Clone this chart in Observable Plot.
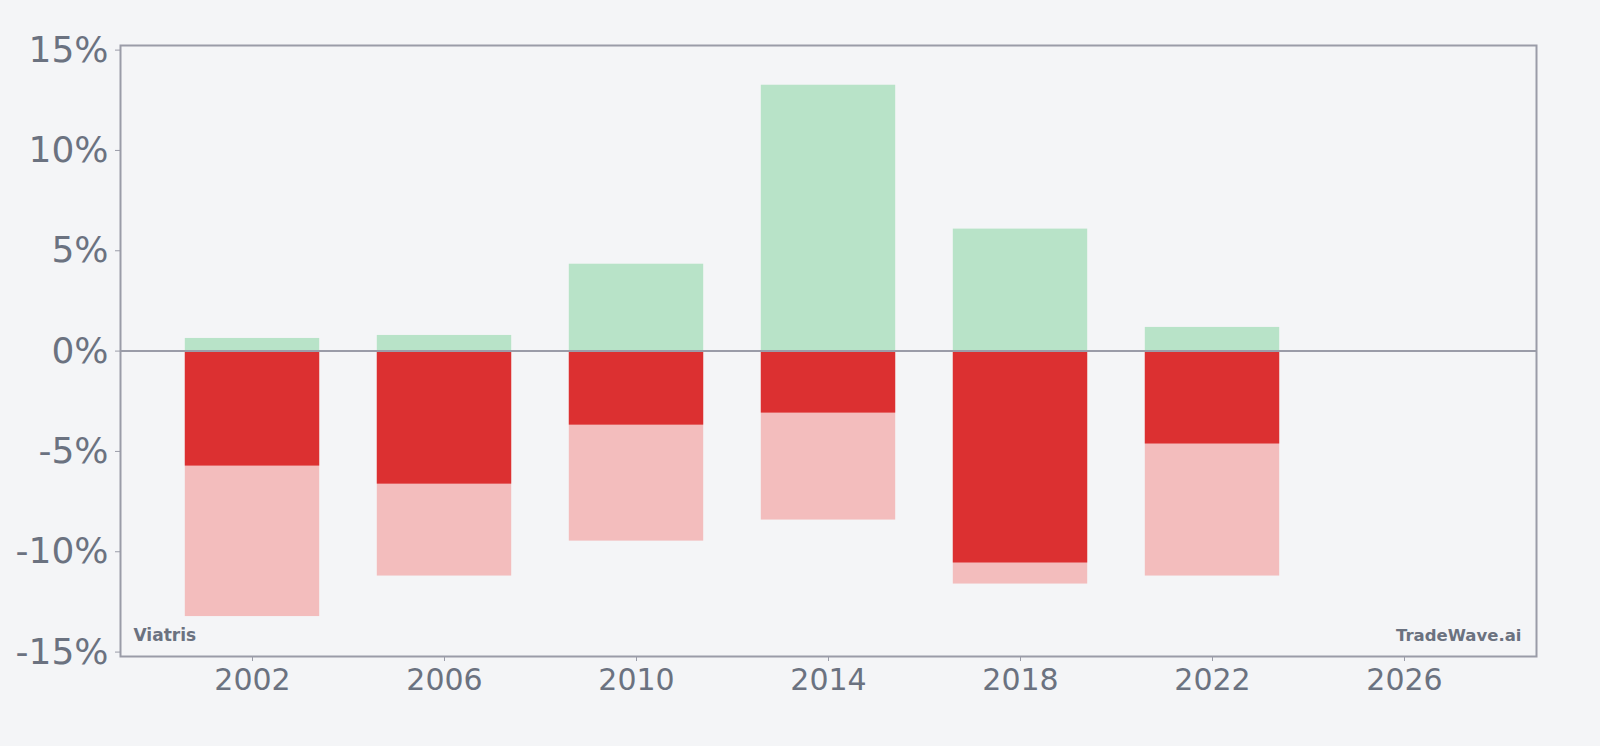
<!DOCTYPE html>
<html>
<head>
<meta charset="utf-8">
<script src="https://cdn.jsdelivr.net/npm/d3@7"></script>
<script src="https://cdn.jsdelivr.net/npm/@observablehq/plot@0.6"></script>
<style>
  html, body { margin: 0; padding: 0; background: #f4f5f7; }
  #chart { width: 1600px; height: 746px; }
</style>
</head>
<body>
<div id="chart"></div>
<script>
const years = [2002, 2006, 2010, 2014, 2018, 2022];
const upside = [0.63, 0.78, 4.33, 13.25, 6.08, 1.18];
const drawdown = [-5.73, -6.63, -3.69, -3.09, -10.56, -4.63];
const worst = [-13.23, -11.21, -9.47, -8.42, -11.61, -11.21];
const xTicks = [2002, 2006, 2010, 2014, 2018, 2022, 2026];
const yTicks = [-15, -10, -5, 0, 5, 10, 15];
const leftLabel = "Viatris";
const rightLabel = "TradeWave.ai";

const rows = years.map((y, i) => ({year: y, up: upside[i], dd: drawdown[i], worst: worst[i]}));
const hw = 1.4;
const textColor = "#6b7280";
const lineColor = "#9a9ca8";

const chart = Plot.plot({
  width: 1600,
  height: 746,
  marginTop: 45,
  marginBottom: 90,
  marginLeft: 120,
  marginRight: 64,
  style: {background: "transparent", fontFamily: "DejaVu Sans", color: textColor},
  x: {domain: [1999.25, 2028.75], ticks: xTicks, tickFormat: d => String(d), label: null},
  y: {domain: [-15.22, 15.23], ticks: yTicks, tickFormat: d => `${d}%`, label: null},
  marks: [
    Plot.rectY(rows, {x1: d => d.year - hw, x2: d => d.year + hw, y1: 0, y2: "up", fill: "#b8e3c8"}),
    Plot.rectY(rows, {x1: d => d.year - hw, x2: d => d.year + hw, y1: 0, y2: "worst", fill: "#f3bdbd"}),
    Plot.rectY(rows, {x1: d => d.year - hw, x2: d => d.year + hw, y1: 0, y2: "dd", fill: "#dc3031"}),
    Plot.ruleY([0], {stroke: lineColor, strokeWidth: 2}),
    Plot.frame({stroke: lineColor, strokeWidth: 2}),
    Plot.axisY({ticks: yTicks, tickFormat: d => `${d}%`, tickSize: 5, tickPadding: 7, fontSize: 36, stroke: lineColor, fill: textColor, label: null}),
    Plot.axisX({ticks: xTicks, tickFormat: d => String(d), tickSize: 5, tickPadding: 7, fontSize: 30, stroke: lineColor, fill: textColor, label: null}),
    Plot.text([leftLabel], {frameAnchor: "bottom-left", dx: 13, dy: -16, lineAnchor: "bottom", textAnchor: "start", fontSize: 17, fontWeight: "bold", fill: textColor}),
    Plot.text([rightLabel], {frameAnchor: "bottom-right", dx: -15, dy: -16, lineAnchor: "bottom", textAnchor: "end", fontSize: 16.5, fontWeight: "bold", fill: textColor})
  ]
});
document.getElementById("chart").appendChild(chart);
</script>
</body>
</html>
